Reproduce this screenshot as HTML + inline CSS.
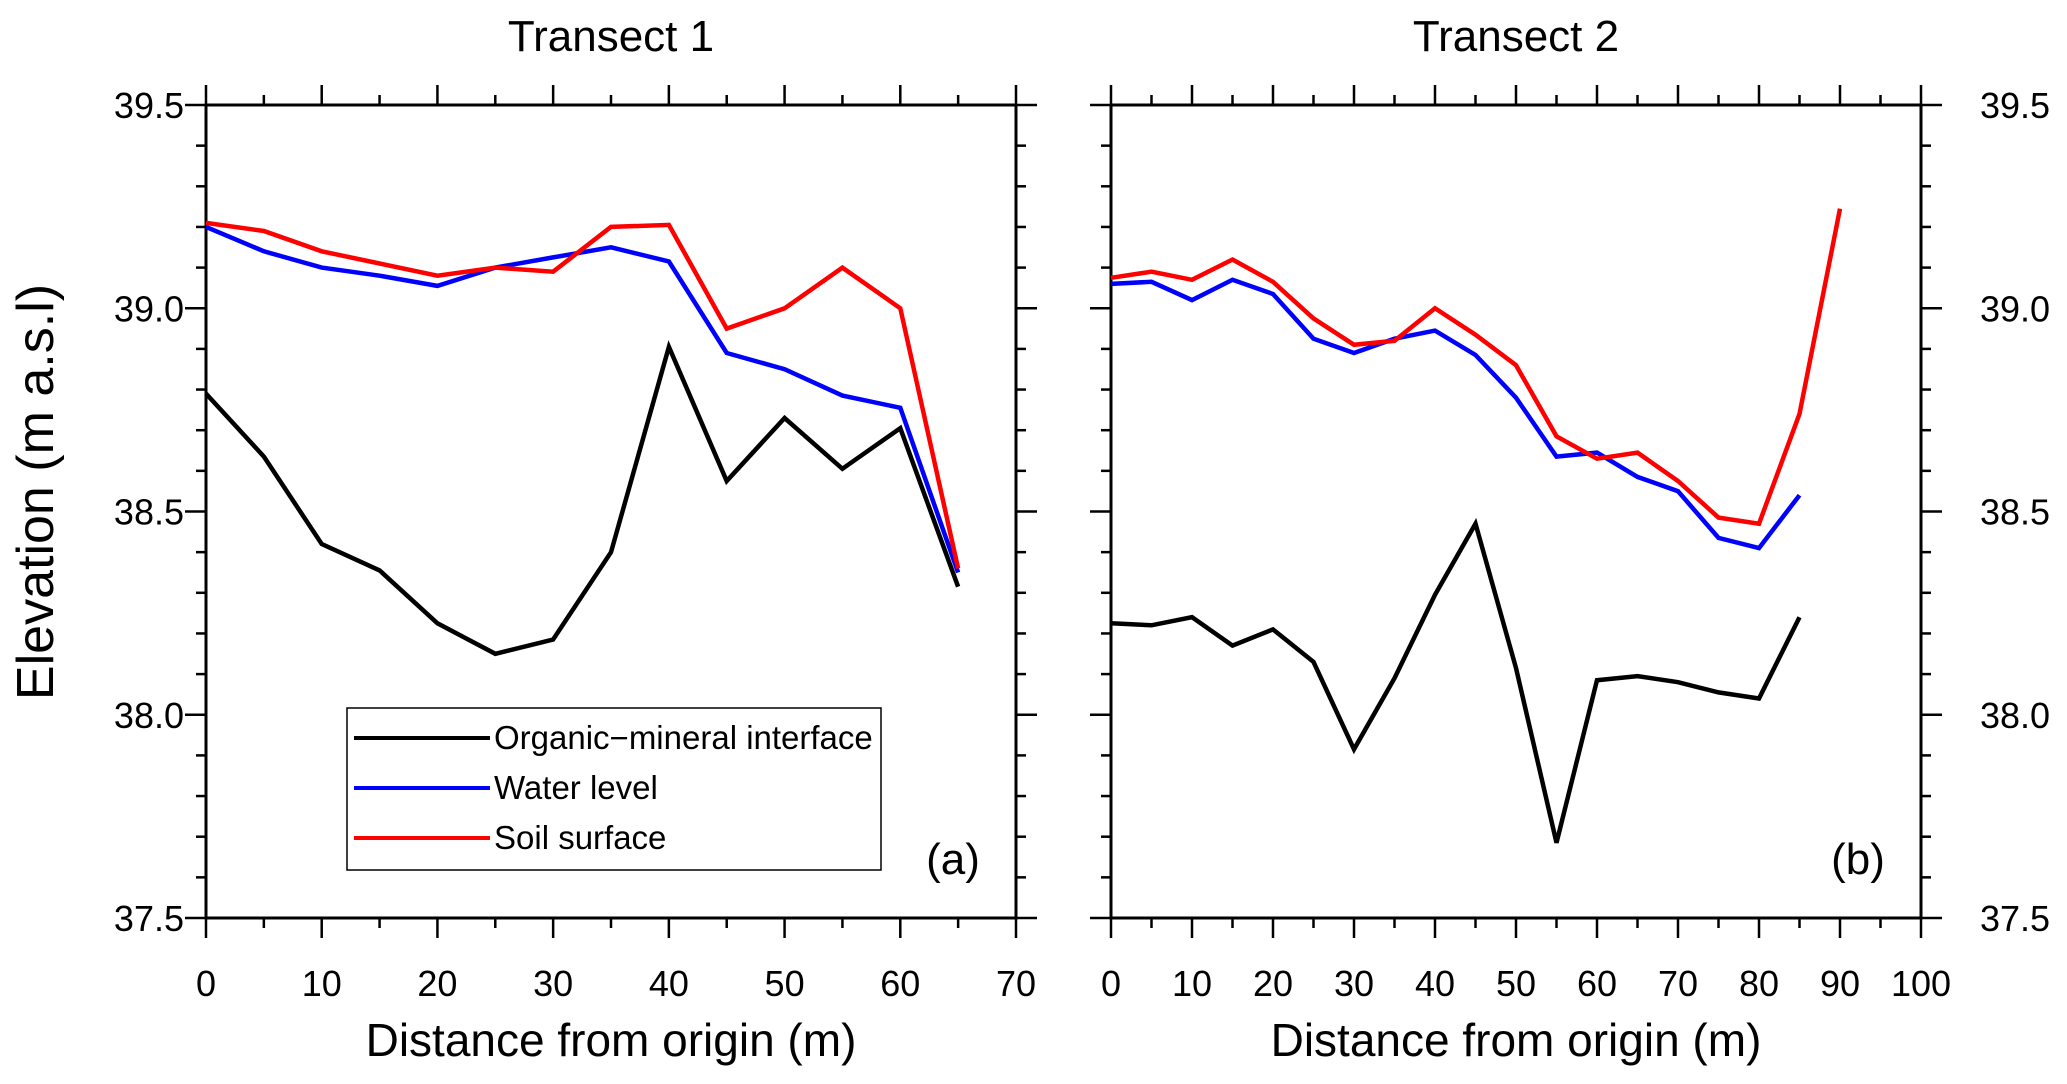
<!DOCTYPE html>
<html><head><meta charset="utf-8"><style>
html,body{margin:0;padding:0;background:#fff;}
svg{display:block;font-family:"Liberation Sans",Arial,sans-serif;}
</style></head><body>
<svg id="chart" width="2067" height="1084" viewBox="0 0 2067 1084" xmlns="http://www.w3.org/2000/svg"></svg>
<script>
// Transect 1 data
const xs1 = [0,5,10,15,20,25,30,35,40,45,50,55,60,65];
const soil1 = [39.21,39.19,39.14,39.11,39.08,39.10,39.09,39.20,39.205,38.95,39.0,39.1,39.0,38.36];
const water1 = [39.2,39.14,39.10,39.08,39.055,39.10,39.125,39.15,39.115,38.89,38.85,38.785,38.755,38.35];
const organic1 = [38.79,38.635,38.42,38.355,38.225,38.15,38.185,38.40,38.905,38.575,38.73,38.605,38.705,38.315];
// Transect 2 data
const xs2 = [0,5,10,15,20,25,30,35,40,45,50,55,60,65,70,75,80,85,90];
const soil2 = [39.075,39.09,39.07,39.12,39.065,38.975,38.91,38.92,39.0,38.935,38.86,38.685,38.63,38.645,38.575,38.485,38.47,38.74,39.245];
const water2 = [39.06,39.065,39.02,39.07,39.035,38.925,38.89,38.925,38.945,38.885,38.78,38.635,38.645,38.585,38.55,38.435,38.41,38.54];
const organic2 = [38.225,38.22,38.24,38.17,38.21,38.13,37.915,38.09,38.295,38.47,38.115,37.685,38.085,38.095,38.08,38.055,38.04,38.24];
const yTickLabels = ["37.5","38.0","38.5","39.0","39.5"];
const xTicks1 = [0,10,20,30,40,50,60,70];
const xTicks2 = [0,10,20,30,40,50,60,70,80,90,100];

const NS="http://www.w3.org/2000/svg";
const svg=document.getElementById('chart');
function mk(tag,attrs,parent){const e=document.createElementNS(NS,tag);for(const k in attrs)e.setAttribute(k,attrs[k]);(parent||svg).appendChild(e);return e;}

const plotTop=105, plotBot=918, yMin=37.5, yMax=39.5;
function yS(v){return plotBot-(v-yMin)/(yMax-yMin)*(plotBot-plotTop);}

function panel(name,left,right,xMax,xTicks,series,title,tag,yLabelSide){
  const g=mk('g',{});
  
  
  const xS=v=>left+v/xMax*(right-left);
  const fr=mk('rect',{x:left,y:plotTop,width:right-left,height:plotBot-plotTop,fill:'none',stroke:'#000','stroke-width':3},g);
  
  
  for(let v=0;v<=xMax;v+=5){
    const x=xS(v), len=(v%10===0)?20:10;
    mk('line',{x1:x,x2:x,y1:plotTop,y2:plotTop-len,stroke:'#000','stroke-width':2.5},g);
    mk('line',{x1:x,x2:x,y1:plotBot,y2:plotBot+len,stroke:'#000','stroke-width':2.5},g);
  }
  xTicks.forEach(v=>{
    const t=mk('text',{x:xS(v),y:996,'font-size':36,'text-anchor':'middle'},g);
    t.textContent=v;
    
    
  });
  for(let i=0;i<=20;i++){
    const v=yMin+i*0.1, y=yS(v), len=(i%5===0)?21:10;
    mk('line',{x1:left,x2:left-len,y1:y,y2:y,stroke:'#000','stroke-width':2.5},g);
    mk('line',{x1:right,x2:right+len,y1:y,y2:y,stroke:'#000','stroke-width':2.5},g);
  }
  yTickLabels.forEach((s,i)=>{
    const v=yMin+i*0.5;
    const t=mk('text',{x:yLabelSide==='left'?left-22:right+59,y:yS(v)+13,'font-size':36,'text-anchor':yLabelSide==='left'?'end':'start'},g);
    t.textContent=s;
    
    
  });
  series.forEach(s=>{
    const pts=s.vals.map((v,i)=>xS(s.xs[i]).toFixed(1)+','+yS(v).toFixed(1)).join(' ');
    const p=mk('polyline',{points:pts,fill:'none',stroke:s.color,'stroke-width':4.5,'stroke-linejoin':'miter'},g);
    
    
  });
  const tt=mk('text',{x:(left+right)/2,y:51,'font-size':44,'text-anchor':'middle'},g);
  tt.textContent=title;
  
  
  const xt=mk('text',{x:(left+right)/2,y:1056,'font-size':46,'text-anchor':'middle'},g);
  xt.textContent='Distance from origin (m)';
  
  
  const tg=mk('text',{x:right-63,y:874,'font-size':44,'text-anchor':'middle'},g);
  tg.textContent=tag;
  
  
  return xS;
}

panel('panel-transect-1',206,1016,70,xTicks1,[
  {name:'organic-line-1',xs:xs1,vals:organic1,color:'#000'},
  {name:'water-line-1',xs:xs1,vals:water1,color:'#0000ff'},
  {name:'soil-line-1',xs:xs1,vals:soil1,color:'#ff0000'}
],'Transect 1','(a)','left');
panel('panel-transect-2',1111,1921,100,xTicks2,[
  {name:'organic-line-2',xs:xs2,vals:organic2,color:'#000'},
  {name:'water-line-2',xs:xs2,vals:water2,color:'#0000ff'},
  {name:'soil-line-2',xs:xs2,vals:soil2,color:'#ff0000'}
],'Transect 2','(b)','right');

const yt=mk('text',{x:0,y:0,'font-size':52,'text-anchor':'middle',transform:'translate(53,492) rotate(-90)'});
yt.textContent='Elevation (m a.s.l)';



const lg=mk('g',{});


mk('rect',{x:347,y:708,width:534,height:162,fill:'#fff',stroke:'#000','stroke-width':1.5},lg);
[['Organic\u2212mineral interface','#000',738],['Water level','#0000ff',788],['Soil surface','#ff0000',838]].forEach(r=>{
  const e=mk('g',{},lg);
  
  
  mk('line',{x1:354,x2:490,y1:r[2],y2:r[2],stroke:r[1],'stroke-width':4},e);
  const t=mk('text',{x:494,y:r[2]+11,'font-size':33},e);
  t.textContent=r[0];
});
</script>
</body></html>
